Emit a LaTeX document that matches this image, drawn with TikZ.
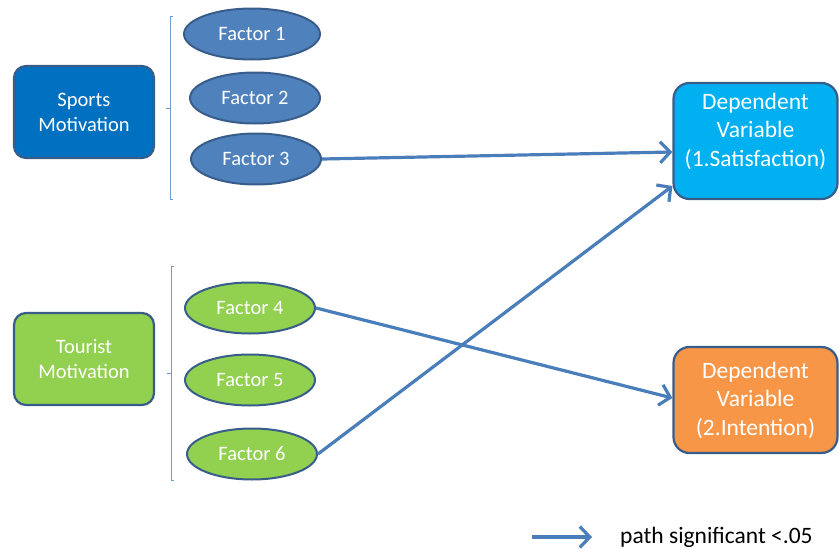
\documentclass[tikz,border=0pt]{standalone}
\usepackage{fontspec}
\setmainfont{Carlito}
\usetikzlibrary{arrows.meta,calc,shapes.geometric}
\definecolor{edgeblue}{HTML}{385D8A}
\definecolor{linkblue}{HTML}{4A7EBB}
\definecolor{factorblue}{HTML}{4F81BD}
\definecolor{sportsblue}{HTML}{0070C0}
\definecolor{satblue}{HTML}{00B0F0}
\definecolor{tourgreen}{HTML}{92D050}
\definecolor{intorange}{HTML}{F79646}
\definecolor{bracketblue}{HTML}{6F9BD1}
\tikzset{
  groupbox/.style={draw=edgeblue, line width=2.2pt, rounded corners=12pt,
    minimum width=140pt, minimum height=92pt, text=white, align=center,
    font=\fontsize{20.5}{25}\selectfont},
  depbox/.style={draw=edgeblue, line width=2.2pt, rounded corners=16pt,
    minimum width=164pt, text=white, align=center,
    font=\fontsize{23.5}{28.5}\selectfont},
  factor/.style={ellipse, draw=edgeblue, line width=2pt, minimum width=130pt,
    minimum height=51pt, inner sep=0pt, text=white,
    font=\fontsize{20.5}{25}\selectfont},
  bracket/.style={draw=bracketblue, line width=1pt},
  link/.style={draw=linkblue, line width=3.2pt,
    -{Straight Barb[length=10pt,width=21pt,line width=3.2pt]}},
}
\begin{document}
\begin{tikzpicture}[x=1pt,y=-1pt]
\useasboundingbox (0,0) rectangle (839,549);

% motivation groups
\node[groupbox, fill=sportsblue] (sports) at (84,112) {Sports\\Motivation};
\node[groupbox, fill=tourgreen] (tourist) at (84,359) {Tourist\\Motivation};

% factor ellipses
\node[factor, fill=factorblue, minimum width=136pt] (f1) at (252,34) {Factor 1};
\node[factor, fill=factorblue] (f2) at (255,98) {Factor 2};
\node[factor, fill=factorblue] (f3) at (256,159) {Factor 3};
\node[factor, fill=tourgreen] (f4) at (250,308) {Factor 4};
\node[factor, fill=tourgreen] (f5) at (250,380) {Factor 5};
\node[factor, fill=tourgreen] (f6) at (252,454) {Factor 6};

% dependent variables (the first one keeps its text near the top)
\node[depbox, fill=satblue, minimum height=116pt] (d1) at (755.5,141)
  {Dependent\\Variable\\(1.Satisfaction)\\[-6pt]\mbox{}};
\node[depbox, fill=intorange, minimum height=106pt] (d2) at (755.5,400)
  {Dependent\\Variable\\(2.Intention)};

% grouping brackets
\draw[bracket] (173,16) -- (170,16) -- (170,199) -- (173,199);
\draw[bracket] (170,108) -- (166,108);
\draw[bracket] (174,266) -- (171,266) -- (171,480) -- (174,480);
\draw[bracket] (171,373) -- (167,373);

% significant paths
\draw[link] (f3.east) -- ($(d1.west)+(0,11)$);
\draw[link] (f6.east) -- ($(d1.west)+(0,45)$);
\draw[link] (f4.east) -- ($(d2.west)+(0,-2)$);

% legend
\coordinate (legA) at (532,537);
\coordinate (legB) at (592,537);
\draw[link] (legA) -- (legB);
\node[anchor=west, font=\fontsize{23.5}{28}\selectfont, inner sep=0pt] (legtext) at (620,537) {path significant <.05};
\end{tikzpicture}
\end{document}
